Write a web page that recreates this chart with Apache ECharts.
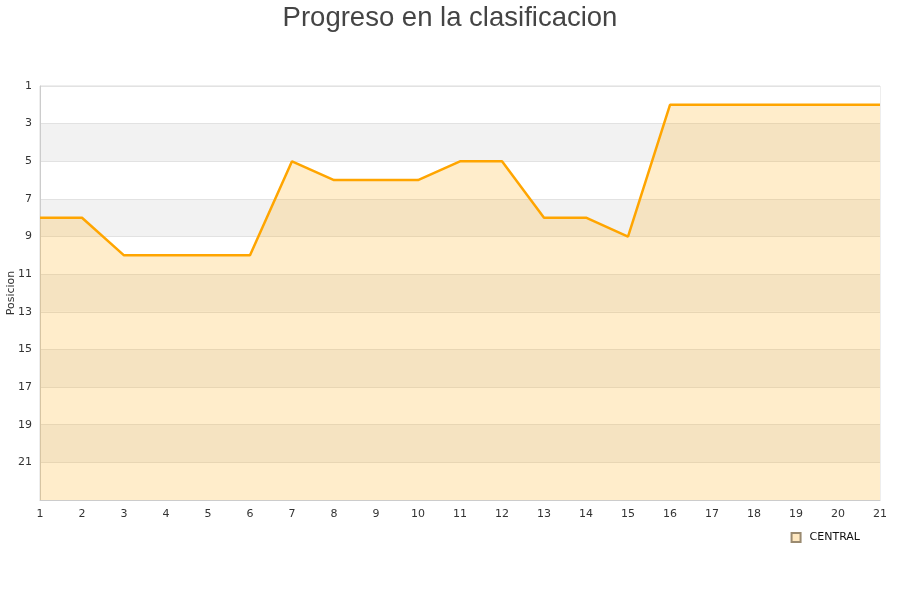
<!DOCTYPE html>
<html>
<head>
<meta charset="utf-8">
<script src="https://cdn.jsdelivr.net/npm/echarts@6/dist/echarts.min.js"></script>
<style>
  html, body { margin: 0; padding: 0; background: #fff; }
  #chart { width: 900px; height: 600px; }
</style>
</head>
<body>
<div id="chart"></div>
<script>
// Jornadas (matchdays) and the team's league position after each one
const jornadas = ['1','2','3','4','5','6','7','8','9','10','11','12','13','14','15','16','17','18','19','20','21'];
const posiciones = [8, 8, 10, 10, 10, 10, 5, 6, 6, 6, 5, 5, 8, 8, 9, 2, 2, 2, 2, 2, 2];
const teamName = 'CENTRAL';

const chart = echarts.init(document.getElementById('chart'));
chart.setOption({
  animation: false,
  backgroundColor: '#ffffff',
  title: {
    text: 'Progreso en la clasificacion',
    left: 'center',
    top: -1,
    textStyle: { fontFamily: 'Liberation Sans', fontSize: 27.5, fontWeight: 'normal', color: '#444444' }
  },
  legend: {
    data: [teamName],
    right: 35,
    top: 527,
    icon: 'rect',
    itemWidth: 9,
    itemHeight: 9,
    itemGap: 10,
    textStyle: { fontFamily: 'DejaVu Sans', fontSize: 11, color: '#111', padding: [0, 0, 0, 4] }
  },
  grid: {
    left: 40, right: 20, top: 86, bottom: 100,
    outerBoundsMode: 'none',
    containLabel: false,
    show: true, borderColor: '#dddddd', borderWidth: 1
  },
  xAxis: {
    type: 'category',
    data: jornadas,
    boundaryGap: false,
    axisLine: { lineStyle: { color: '#cccccc' } },
    axisTick: { show: false },
    axisLabel: { fontFamily: 'DejaVu Sans', fontSize: 11, color: '#333', margin: 9 },
    splitLine: { show: false }
  },
  yAxis: {
    type: 'value',
    inverse: true,
    min: 1,
    max: 23,
    interval: 2,
    name: 'Posicion',
    nameLocation: 'middle',
    nameGap: 23,
    nameMoveOverlap: false,
    nameTextStyle: { fontFamily: 'DejaVu Sans', fontSize: 11, color: '#333' },
    axisLine: { show: true, lineStyle: { color: '#cccccc' } },
    axisTick: { show: false },
    axisLabel: {
      fontFamily: 'DejaVu Sans', fontSize: 11, color: '#333', margin: 8,
      formatter: v => (v === 23 ? '' : String(v))
    },
    splitLine: { show: true, lineStyle: { color: '#e2e2e2' } },
    splitArea: { show: true, areaStyle: { color: ['#ffffff', '#f2f2f2'] } }
  },
  series: [{
    name: teamName,
    type: 'line',
    data: posiciones,
    symbol: 'none',
    lineStyle: { color: '#FFA500', width: 2.5 },
    itemStyle: { color: '#ffe8c0', borderColor: '#9a8a70', borderWidth: 1 },
    areaStyle: { origin: 'end', color: 'rgba(255,172,20,0.22)', opacity: 1 }
  }]
});
</script>
</body>
</html>
